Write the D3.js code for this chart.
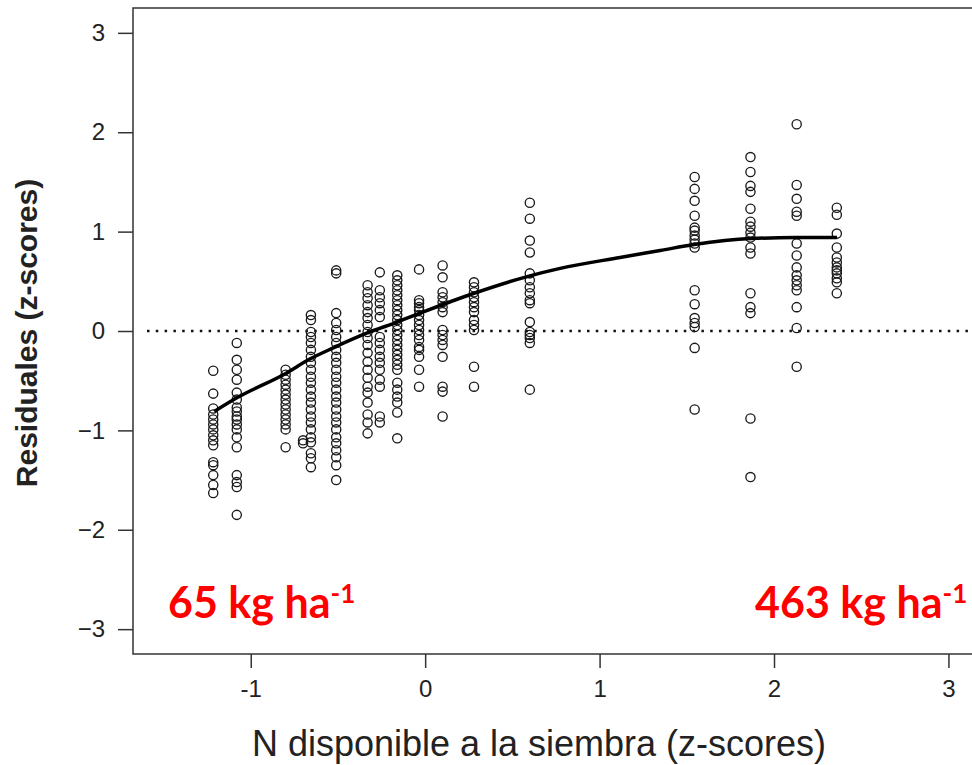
<!DOCTYPE html>
<html>
<head>
<meta charset="utf-8">
<script src="https://cdn.jsdelivr.net/npm/d3@7"></script>
<style>
  body { margin: 0; background: #fff; }
  svg { display: block; }
  .tick text { font-family: "Liberation Sans", Arial, sans-serif; fill: #222; }
  .tick line { stroke: #333; stroke-width: 1.5; }
</style>
</head>
<body>
<svg></svg>
<script>
const width = 972;
const height = 765;

// x position (z-score of N at sowing) of each group of points
const groupX = [-1.215, -1.08, -0.80, -0.70, -0.655, -0.51, -0.33, -0.26, -0.16, -0.035, 0.10, 0.28, 0.60, 1.545, 1.865, 2.13, 2.36];

// residuals of each group, same order as groupX
const groupResiduals = [
    [-0.40, -0.63, -0.78, -0.84, -0.89, -0.94, -0.99, -1.05, -1.10, -1.15, -1.32, -1.35, -1.45, -1.55, -1.63],
    [-0.12, -0.29, -0.39, -0.49, -0.62, -0.69, -0.77, -0.81, -0.86, -0.89, -0.94, -0.99, -1.07, -1.17, -1.45, -1.52, -1.57, -1.85],
    [-0.39, -0.44, -0.49, -0.54, -0.59, -0.64, -0.69, -0.74, -0.79, -0.84, -0.89, -0.94, -0.99, -1.17],
    [-1.10, -1.13],
    [0.16, 0.11, -0.01, -0.06, -0.12, -0.19, -0.26, -0.32, -0.39, -0.46, -0.52, -0.59, -0.66, -0.72, -0.79, -0.86, -0.92, -0.99, -1.07, -1.12, -1.23, -1.28, -1.37],
    [0.61, 0.58, 0.18, 0.08, 0.01, -0.06, -0.12, -0.19, -0.26, -0.32, -0.39, -0.46, -0.52, -0.59, -0.66, -0.72, -0.79, -0.86, -0.92, -0.99, -1.07, -1.13, -1.20, -1.27, -1.35, -1.50],
    [0.46, 0.39, 0.33, 0.26, 0.19, 0.13, 0.06, -0.01, -0.07, -0.14, -0.22, -0.31, -0.39, -0.47, -0.56, -0.62, -0.72, -0.84, -0.92, -1.03],
    [0.59, 0.41, 0.34, 0.28, 0.21, 0.14, -0.06, -0.12, -0.19, -0.26, -0.32, -0.39, -0.49, -0.56, -0.86, -0.92],
    [0.56, 0.51, 0.46, 0.41, 0.36, 0.31, 0.26, 0.21, 0.16, 0.11, 0.06, 0.01, -0.04, -0.09, -0.14, -0.19, -0.24, -0.29, -0.34, -0.39, -0.52, -0.59, -0.66, -0.72, -0.82, -1.08],
    [0.62, 0.31, 0.28, 0.24, 0.21, 0.16, 0.11, 0.06, 0.01, -0.04, -0.09, -0.16, -0.19, -0.26, -0.39, -0.56],
    [0.66, 0.54, 0.39, 0.34, 0.29, 0.24, 0.19, 0.01, -0.04, -0.09, -0.14, -0.26, -0.56, -0.61, -0.86],
    [0.49, 0.44, 0.39, 0.34, 0.29, 0.24, 0.19, 0.11, 0.06, 0.01, -0.36, -0.56],
    [1.29, 1.13, 0.91, 0.79, 0.58, 0.51, 0.44, 0.38, 0.31, 0.28, 0.09, -0.01, -0.04, -0.07, -0.12, -0.59],
    [1.55, 1.43, 1.31, 1.16, 1.04, 1.01, 0.96, 0.92, 0.88, 0.84, 0.41, 0.27, 0.13, 0.08, 0.04, -0.17, -0.79],
    [1.75, 1.60, 1.46, 1.40, 1.23, 1.10, 1.05, 0.99, 0.94, 0.84, 0.78, 0.38, 0.24, 0.18, -0.88, -1.47],
    [2.08, 1.47, 1.33, 1.20, 1.16, 0.88, 0.76, 0.64, 0.56, 0.51, 0.46, 0.41, 0.24, 0.03, -0.36],
    [1.24, 1.17, 0.98, 0.84, 0.74, 0.69, 0.64, 0.61, 0.58, 0.53, 0.49, 0.38]
];

// fitted curve
const curveX = [-1.209, -1.077, -0.802, -0.659, -0.527, -0.332, -0.160, -0.029, 0.281, 0.590, 0.774, 1.117, 1.347, 1.542, 1.868, 2.126, 2.361];
const curveY = [-0.81, -0.67, -0.43, -0.28, -0.17, -0.02, 0.09, 0.18, 0.38, 0.55, 0.63, 0.74, 0.81, 0.87, 0.93, 0.94, 0.94];

const xTicks = [-1, 0, 1, 2, 3];
const yTicks = [-3, -2, -1, 0, 1, 2, 3];

const leftLabel = "65 kg ha";
const rightLabel = "463 kg ha";

const svg = d3.select("svg")
    .attr("width", width)
    .attr("height", height);

const plot = { left: 133, top: 8, right: 1081, bottom: 654 };

const x = d3.scaleLinear().domain([-1.675, 3.76]).range([plot.left, plot.right]);
const y = d3.scaleLinear().domain([-3.25, 3.25]).range([plot.bottom, plot.top]);

// zero reference line (dotted)
svg.append("line")
    .attr("x1", plot.left + 14).attr("x2", width)
    .attr("y1", y(0)).attr("y2", y(0))
    .attr("stroke", "#111")
    .attr("stroke-width", 2.5)
    .attr("stroke-dasharray", "2.5,6.3");

// points
const points = groupX.flatMap((gx, i) => groupResiduals[i].map(r => [gx, r]));

svg.append("g")
    .selectAll("circle")
    .data(points)
    .join("circle")
    .attr("cx", d => x(d[0]))
    .attr("cy", d => y(d[1]))
    .attr("r", 4.6)
    .attr("fill", "none")
    .attr("stroke", "#1a1a1a")
    .attr("stroke-width", 1.35);

// fitted curve
const line = d3.line()
    .x(d => x(d[0]))
    .y(d => y(d[1]))
    .curve(d3.curveMonotoneX);

svg.append("path")
    .datum(curveX.map((cx, i) => [cx, curveY[i]]))
    .attr("d", line)
    .attr("fill", "none")
    .attr("stroke", "#000")
    .attr("stroke-width", 3.5);

// box
svg.append("rect")
    .attr("x", plot.left).attr("y", plot.top)
    .attr("width", plot.right - plot.left)
    .attr("height", plot.bottom - plot.top)
    .attr("fill", "none")
    .attr("stroke", "#333")
    .attr("stroke-width", 1.5);

// axes
svg.append("g")
    .attr("transform", `translate(${plot.left},0)`)
    .call(d3.axisLeft(y).tickValues(yTicks).tickFormat(d3.format("d")).tickSize(15).tickPadding(13))
    .call(g => g.select(".domain").remove())
    .call(g => g.selectAll("text").attr("font-size", 24));

svg.append("g")
    .attr("transform", `translate(0,${plot.bottom})`)
    .call(d3.axisBottom(x).tickValues(xTicks).tickFormat(d => String(d)).tickSize(14).tickPadding(12))
    .call(g => g.select(".domain").remove())
    .call(g => g.selectAll("text").attr("font-size", 24));

// axis titles
svg.append("text")
    .attr("transform", "translate(37,333) rotate(-90)")
    .attr("text-anchor", "middle")
    .attr("font-family", "Liberation Sans, Arial, sans-serif")
    .attr("font-weight", "bold")
    .attr("font-size", 30)
    .attr("fill", "#222")
    .text("Residuales (z-scores)");

svg.append("text")
    .attr("x", 539)
    .attr("y", 756)
    .attr("text-anchor", "middle")
    .attr("font-family", "Liberation Sans, Arial, sans-serif")
    .attr("font-size", 36)
    .attr("fill", "#222")
    .text("N disponible a la siembra (z-scores)");

// red annotations
function annotate(xPos, label) {
    const t = svg.append("text")
        .attr("x", xPos)
        .attr("y", 618)
        .attr("font-family", "Lato, sans-serif")
        .attr("font-weight", "bold")
        .attr("font-size", 43)
        .attr("fill", "#ff0000")
        .text(label);
    t.append("tspan")
        .attr("dy", -15)
        .attr("font-size", 26)
        .text("-1");
}
annotate(168, leftLabel);
annotate(755, rightLabel);
</script>
</body>
</html>
